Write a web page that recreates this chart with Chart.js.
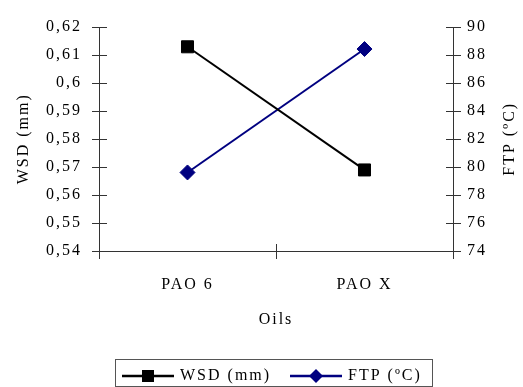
<!DOCTYPE html>
<html>
<head>
<meta charset="utf-8">
<script src="https://cdn.jsdelivr.net/npm/chart.js@4.4.1/dist/chart.umd.min.js"></script>
<style>
  html, body { margin: 0; padding: 0; background: #fff; }
  #wrap { width: 523px; height: 387px; }
</style>
</head>
<body>
<div id="wrap"><canvas id="chart"></canvas></div>
<script>
// categories on the x axis
const oils = ['PAO 6', 'PAO X'];
// wear scar diameter, left axis (mm)
const wsd = [0.6128, 0.5689];
// flash temperature parameter, right axis (ºC)
const ftp = [79.6, 88.4];

// axis ranges
const wsdMin = 0.54, wsdMax = 0.62, wsdStep = 0.01;
const ftpMin = 74, ftpMax = 90, ftpStep = 2;

const seriesNames = ['WSD (mm)', 'FTP (ºC)'];
const xTitle = 'Oils';

const FONT = 'Liberation Serif, Times New Roman, serif';
const axisColor = '#333333';

// wide letter spacing like the original export
function spacing(chart) {
  chart.ctx.letterSpacing = '2px';
}

// draws axis lines, crossing tick marks, the right title and the boxed legend
const decorations = {
  id: 'decorations',
  beforeUpdate: spacing,
  beforeDraw: spacing,
  afterDraw(chart) {
    const ctx = chart.ctx;
    const area = chart.chartArea;
    const x = chart.scales.x, yl = chart.scales.y, yr = chart.scales.y1;
    const L = Math.round(area.left);
    const R = Math.round(area.right);
    const T = Math.round(area.top);
    const B = Math.round(area.bottom);
    ctx.save();
    ctx.letterSpacing = '2px';
    ctx.fillStyle = axisColor;

    // axis lines
    ctx.fillRect(L, T, 1, B - T + 8);
    ctx.fillRect(R, T, 1, B - T + 8);
    ctx.fillRect(L - 7, B, R - L + 15, 1);

    // tick marks across the axes
    yl.ticks.forEach(t => {
      const py = Math.round(yl.getPixelForValue(t.value));
      ctx.fillRect(L - 7, py, 15, 1);
    });
    yr.ticks.forEach(t => {
      const py = Math.round(yr.getPixelForValue(t.value));
      ctx.fillRect(R - 7, py, 15, 1);
    });
    for (let i = 1; i < oils.length; i++) {
      const px = Math.round((x.getPixelForValue(i - 1) + x.getPixelForValue(i)) / 2);
      ctx.fillRect(px, B - 7, 1, 15);
    }

    // right axis title, reading upwards
    ctx.fillStyle = '#000';
    ctx.font = '16px ' + FONT;
    ctx.textAlign = 'center';
    ctx.textBaseline = 'middle';
    ctx.save();
    ctx.translate(510, (area.top + area.bottom) / 2);
    ctx.rotate(-Math.PI / 2);
    ctx.fillText('FTP (ºC)', 0, 0);
    ctx.restore();

    // legend box
    const bx = 115.5, by = 359.5, bw = 317, bh = 27;
    ctx.strokeStyle = '#555';
    ctx.lineWidth = 1;
    ctx.strokeRect(bx, by, bw, bh);
    const ly = 376;
    const starts = [122, 290];
    chart.data.datasets.forEach((ds, i) => {
      const sx = starts[i];
      ctx.strokeStyle = ds.borderColor;
      ctx.lineWidth = 2.5;
      ctx.beginPath();
      ctx.moveTo(sx, ly);
      ctx.lineTo(sx + 52, ly);
      ctx.stroke();
      ctx.fillStyle = ds.borderColor;
      const cx = sx + 26;
      ctx.beginPath();
      if (ds.pointStyle === 'rect') {
        ctx.rect(cx - 6, ly - 6, 12, 12);
      } else {
        ctx.moveTo(cx, ly - 7);
        ctx.lineTo(cx + 7, ly);
        ctx.lineTo(cx, ly + 7);
        ctx.lineTo(cx - 7, ly);
        ctx.closePath();
      }
      ctx.fill();
      ctx.fillStyle = '#000';
      ctx.textAlign = 'left';
      ctx.textBaseline = 'middle';
      ctx.fillText(ds.label, sx + 58, ly);
    });
    ctx.restore();
  }
};

const data = {
  labels: oils,
  datasets: [{
    label: seriesNames[0],
    data: wsd,
    yAxisID: 'y',
    borderColor: '#000000',
    backgroundColor: '#000000',
    borderWidth: 2,
    pointStyle: 'rect',
    pointRadius: 8.5,
    pointBorderWidth: 1
  }, {
    label: seriesNames[1],
    data: ftp,
    yAxisID: 'y1',
    borderColor: '#000080',
    backgroundColor: '#000080',
    borderWidth: 2,
    pointStyle: 'rectRot',
    pointRadius: 7.5,
    pointBorderWidth: 1
  }]
};

const tickFont = { family: FONT, size: 16 };
const noGrid = { display: false, drawTicks: false };

const config = {
  type: 'line',
  data: data,
  options: {
    responsive: true,
    maintainAspectRatio: false,
    animation: false,
    layout: { padding: { top: 21, left: 0, right: 0, bottom: 52 } },
    plugins: {
      legend: { display: false },
      tooltip: { enabled: false }
    },
    scales: {
      x: {
        offset: true,
        grid: noGrid,
        border: { display: false },
        ticks: { color: '#000', font: tickFont, padding: 24, maxRotation: 0 },
        title: { display: true, text: xTitle, color: '#000', font: tickFont, padding: { top: 0, bottom: 6 } },
        afterFit(scale) { scale.height = 84; }
      },
      y: {
        position: 'left',
        min: wsdMin,
        max: wsdMax,
        grid: noGrid,
        border: { display: false },
        ticks: {
          stepSize: wsdStep,
          color: '#000',
          font: tickFont,
          padding: 17,
          callback: v => String(Math.round(v * 100) / 100).replace('.', ',')
        },
        title: { display: true, text: seriesNames[0], color: '#000', font: tickFont, padding: { top: 14, bottom: 0 } },
        afterFit(scale) { scale.width = 99; }
      },
      y1: {
        position: 'right',
        min: ftpMin,
        max: ftpMax,
        grid: noGrid,
        border: { display: false },
        ticks: { stepSize: ftpStep, color: '#000', font: tickFont, padding: 14 },
        afterFit(scale) { scale.width = 70; }
      }
    }
  },
  plugins: [decorations]
};

const chart = new Chart(document.getElementById('chart'), config);
</script>
</body>
</html>
